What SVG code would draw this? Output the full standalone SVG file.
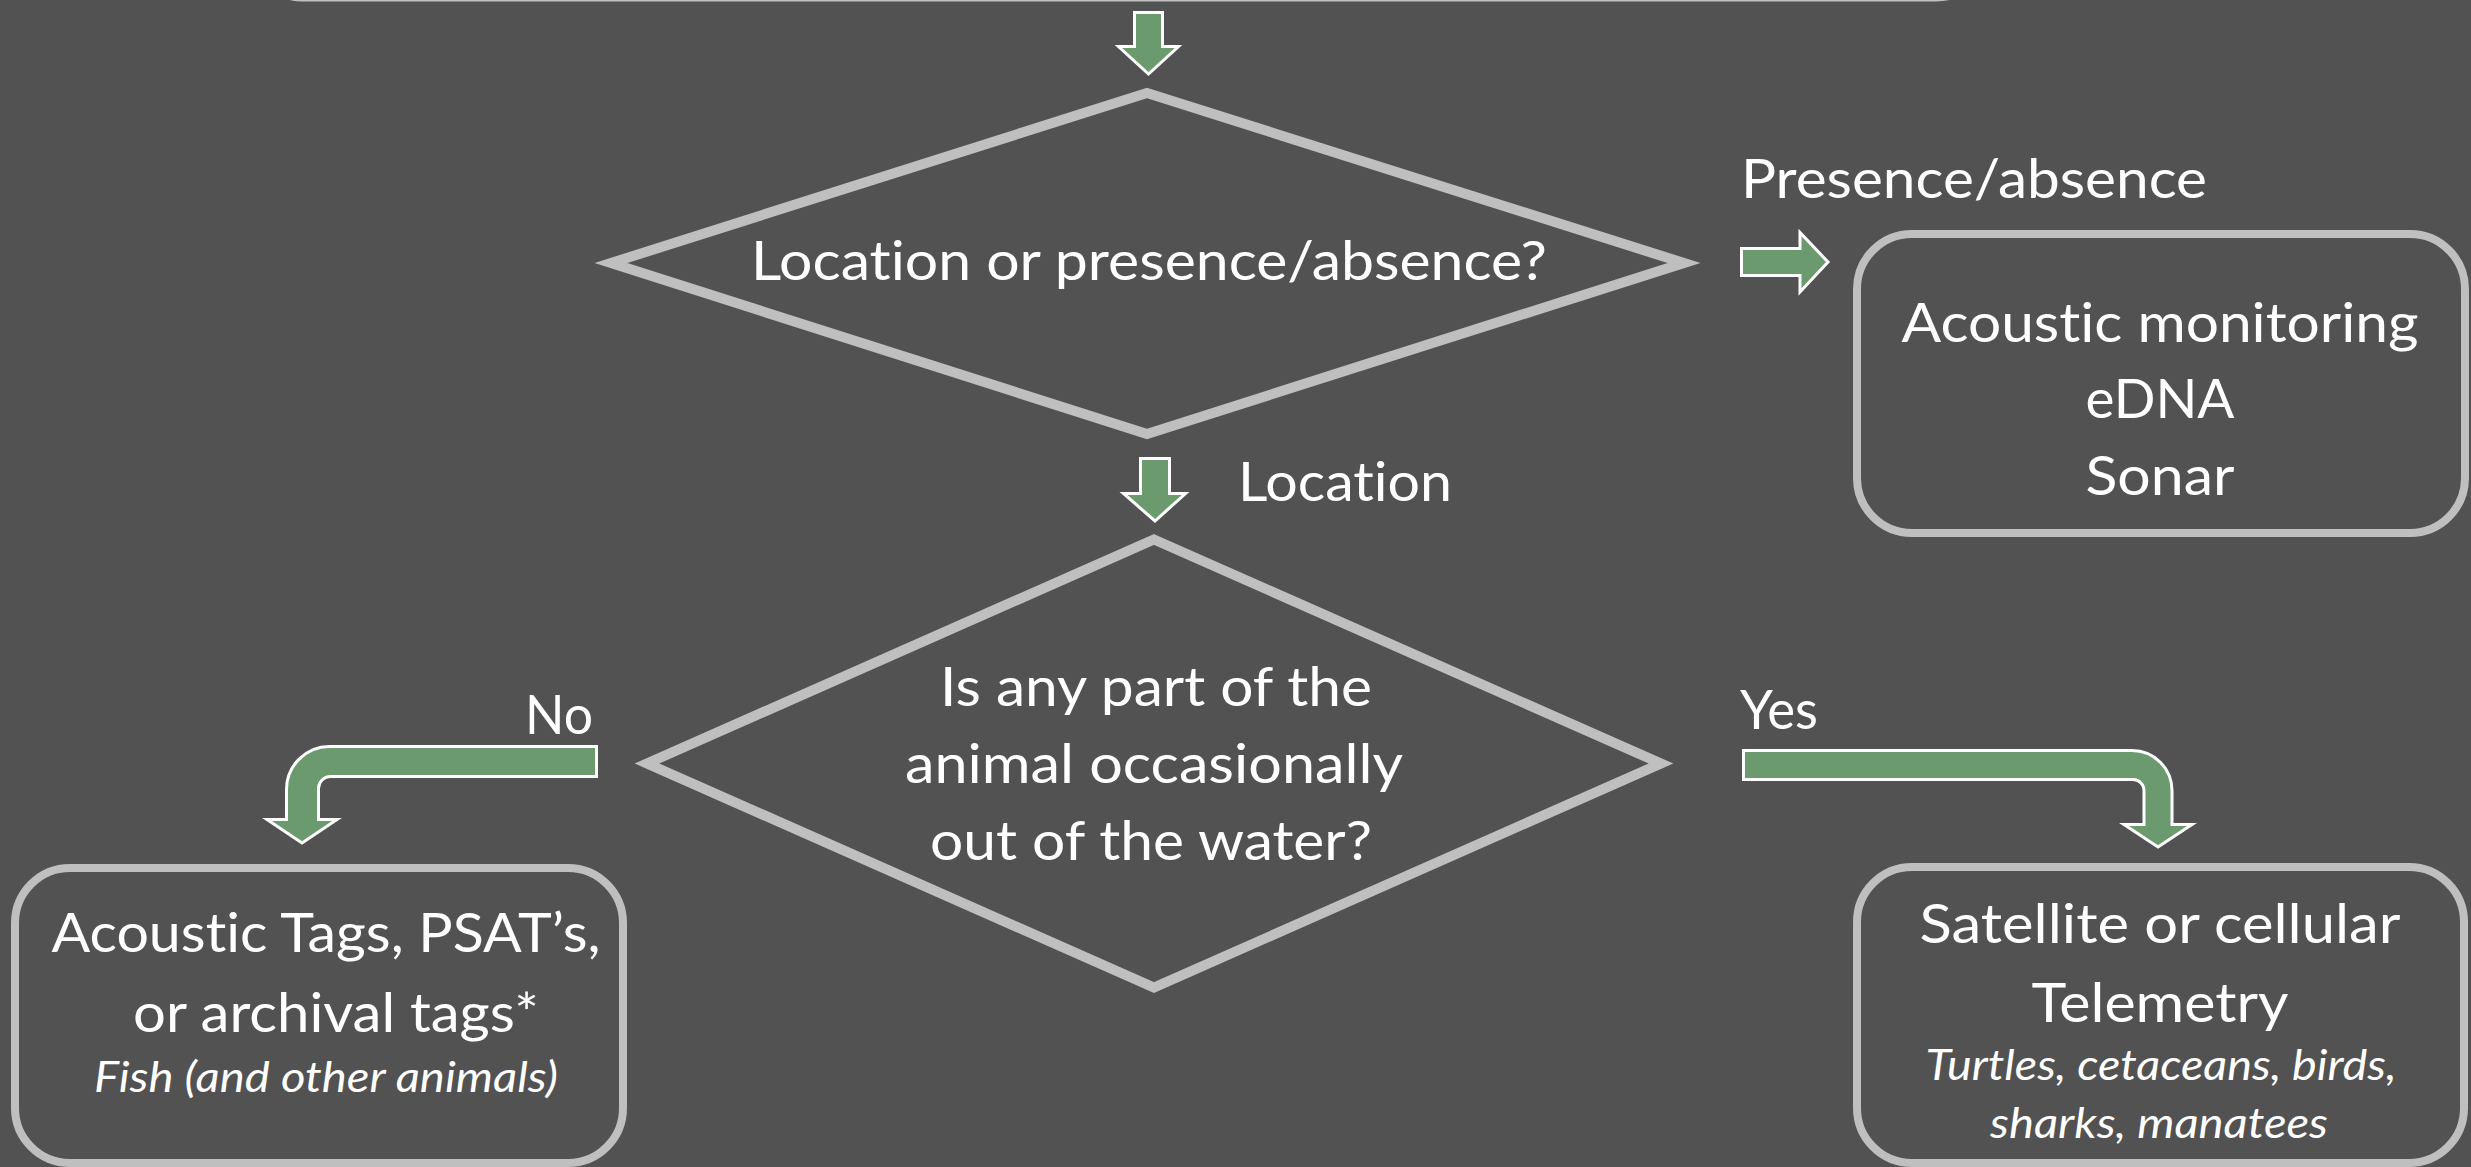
<svg xmlns="http://www.w3.org/2000/svg" width="2471" height="1167" viewBox="0 0 2471 1167">
<style>
.bg{fill:#525252}
.box{fill:none;stroke:#BFBFBF;stroke-width:8}
.dia{fill:none;stroke:#BFBFBF;stroke-width:10;stroke-linejoin:miter}
.arr{fill:#6A9A6D;stroke:#FFFFFF;stroke-width:3;stroke-linejoin:miter}
.t{font-family:Lato,"Liberation Sans",sans-serif;font-size:55px;fill:#FFFFFF;font-variant-ligatures:none;font-feature-settings:"liga" 0,"dlig" 0}
.i{font-family:Lato,"Liberation Sans",sans-serif;font-size:42px;font-style:italic;fill:#FFFFFF;font-variant-ligatures:none;font-feature-settings:"liga" 0,"dlig" 0}
.m{text-anchor:middle}
</style>
<rect class="bg" x="0" y="0" width="2471" height="1167"/>
<g id="top-box">
<rect class="box" x="248" y="-300" width="1743" height="297.5" rx="55"/>
</g>
<g id="decision-location-presence">
<polygon class="dia" points="1147,93 1684,263 1147,434 611,263"/>
<text class="t m" x="1149" y="280" textLength="796" lengthAdjust="spacingAndGlyphs">Location or presence/absence?</text>
</g>
<g id="presence-methods">
<rect class="box" x="1857" y="234" width="608" height="299" rx="55"/>
<text class="t m" x="2160" y="342" textLength="517" lengthAdjust="spacingAndGlyphs">Acoustic monitoring</text>
<text class="t m" x="2160" y="418" textLength="149" lengthAdjust="spacingAndGlyphs">eDNA</text>
<text class="t m" x="2160" y="495" textLength="149" lengthAdjust="spacingAndGlyphs">Sonar</text>
</g>
<g id="decision-out-of-water">
<polygon class="dia" points="1154,539.5 1661,763.5 1154,987.5 647,763.5"/>
<text class="t m" x="1156" y="706" textLength="432" lengthAdjust="spacingAndGlyphs">Is any part of the</text>
<text class="t m" x="1154" y="783" textLength="498" lengthAdjust="spacingAndGlyphs">animal occasionally</text>
<text class="t m" x="1151" y="860" textLength="442" lengthAdjust="spacingAndGlyphs">out of the water?</text>
</g>
<g id="underwater-tags">
<rect class="box" x="15" y="868" width="608" height="295" rx="55"/>
<text class="t m" x="326" y="952" textLength="549" lengthAdjust="spacingAndGlyphs">Acoustic Tags, PSAT’s,</text>
<text class="t m" x="336" y="1032" textLength="406" lengthAdjust="spacingAndGlyphs">or archival tags*</text>
<text class="i m" x="326" y="1092" textLength="464" lengthAdjust="spacingAndGlyphs">Fish (and other animals)</text>
</g>
<g id="satellite-telemetry">
<rect class="box" x="1857" y="867" width="607" height="296" rx="55"/>
<text class="t m" x="2160" y="943" textLength="481" lengthAdjust="spacingAndGlyphs">Satellite or cellular</text>
<text class="t m" x="2160" y="1022" textLength="257" lengthAdjust="spacingAndGlyphs">Telemetry</text>
<text class="i m" x="2161" y="1080" textLength="471" lengthAdjust="spacingAndGlyphs">Turtles, cetaceans, birds,</text>
<text class="i m" x="2159" y="1138" textLength="338" lengthAdjust="spacingAndGlyphs">sharks, manatees</text>
</g>
<g id="connectors">
<path class="arr" d="M1134.5,12.5 L1162.5,12.5 L1162.5,46.5 L1178.5,46.5 L1148.5,74 L1118.5,46.5 L1134.5,46.5 Z"/>
<path class="arr" d="M1741.5,248.5 L1800,248.5 L1800,232.5 L1828,262 L1800,292 L1800,275.5 L1741.5,275.5 Z"/>
<text class="t" x="1741" y="198" textLength="466" lengthAdjust="spacingAndGlyphs">Presence/absence</text>
<path class="arr" d="M1140.5,458.5 L1169.5,458.5 L1169.5,493.5 L1185.5,493.5 L1155,521 L1123.5,493.5 L1140.5,493.5 Z"/>
<text class="t" x="1238" y="501" textLength="214" lengthAdjust="spacingAndGlyphs">Location</text>
<path class="arr" d="M596.5,746.5 L329.5,746.5 A43,43 0 0 0 286.5,789.5 L286.5,819.5 L267,819.5 L302,843 L337,819.5 L318.5,819.5 L318.5,788.5 A12,12 0 0 1 330.5,776.5 L596.5,776.5 Z"/>
<text class="t" x="593" y="734" text-anchor="end" textLength="68" lengthAdjust="spacingAndGlyphs">No</text>
<path class="arr" d="M1743.5,750.5 L2132,750.5 A40,40 0 0 1 2172,790.5 L2172,824.5 L2192,824.5 L2158,847 L2124,824.5 L2144,824.5 L2144,790.5 A11,11 0 0 0 2133,779.5 L1743.5,779.5 Z"/>
<text class="t" x="1740" y="729" textLength="78" lengthAdjust="spacingAndGlyphs">Yes</text>
</g>
</svg>
